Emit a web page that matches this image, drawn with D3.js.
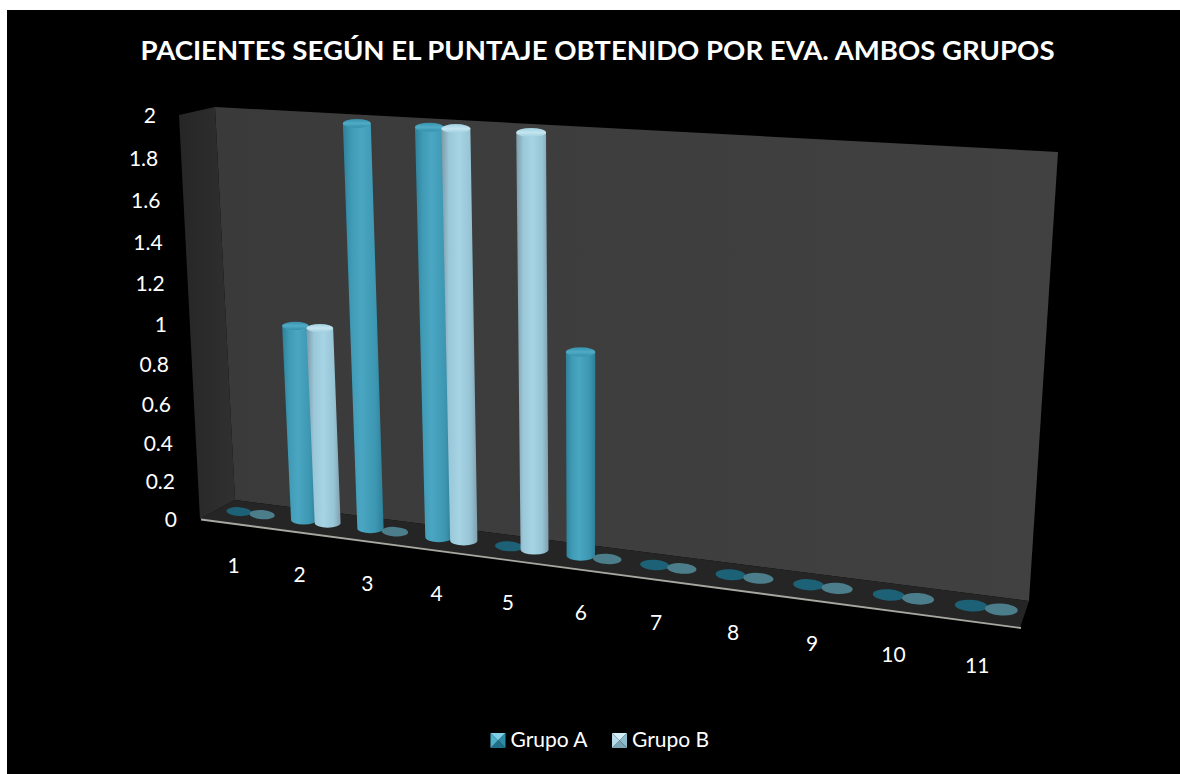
<!DOCTYPE html>
<html>
<head>
<meta charset="utf-8">
<script src="https://cdn.jsdelivr.net/npm/d3@7"></script>
<style>
  html, body { margin: 0; padding: 0; background: #fff; }
  svg { display: block; }
  text { font-family: Lato, "Open Sans", sans-serif; fill: #fff; }
</style>
</head>
<body>
<div id="chart"></div>
<script>
// Chart data
const categories = ['1', '2', '3', '4', '5', '6', '7', '8', '9', '10', '11'];
const grupoA = [0, 1, 2, 2, 0, 1, 0, 0, 0, 0, 0];
const grupoB = [0, 1, 0, 2, 2, 0, 0, 0, 0, 0, 0];
const valueTicks = [0, 0.2, 0.4, 0.6, 0.8, 1, 1.2, 1.4, 1.6, 1.8, 2];
const seriesNames = ['Grupo A', 'Grupo B'];

const width = 1180;
const height = 774;

const svg = d3
  .select('#chart')
  .append('svg')
  .attr('width', width)
  .attr('height', height);

const defs = svg.append('defs');

// Solve the 3x3 matrix taking the unit square to a four sided shape
function quadMap(p00, p10, p11, p01) {
  const dx1 = p10[0] - p11[0];
  const dx2 = p01[0] - p11[0];
  const sx = p00[0] - p10[0] + p11[0] - p01[0];
  const dy1 = p10[1] - p11[1];
  const dy2 = p01[1] - p11[1];
  const sy = p00[1] - p10[1] + p11[1] - p01[1];
  const det = dx1 * dy2 - dx2 * dy1;
  const g = (sx * dy2 - dx2 * sy) / det;
  const h = (dx1 * sy - sx * dy1) / det;
  const a = p10[0] - p00[0] + g * p10[0];
  const b = p01[0] - p00[0] + h * p01[0];
  const d = p10[1] - p00[1] + g * p10[1];
  const e = p01[1] - p00[1] + h * p01[1];
  return (s, t) => {
    const w = g * s + h * t + 1;
    return [(a * s + b * t + p00[0]) / w, (d * s + e * t + p00[1]) / w];
  };
}

// Scales feed the perspective map: categories across, values upward
const x = d3.scaleLinear().domain([0, categories.length]).range([0, 1]);
const y = d3.scaleLinear().domain([0, 2]).range([0, 1]);

// Plane the cylinders stand on, and the strip holding the value labels
const barPlane = quadMap([218.5, 509], [1028.5, 613], [1060, 160], [196, 115]);
const project = (u, value) => barPlane(x(u), y(value));
const axisEdge = quadMap([177, 520], [207, 520], [188, 116], [156, 116]);

// Background
svg.append('rect').attr('x', 7).attr('y', 10).attr('width', width - 7).attr('height', height - 10).attr('fill', '#000');

// Title
svg
  .append('text')
  .attr('x', 597.5)
  .attr('y', 60)
  .attr('text-anchor', 'middle')
  .attr('textLength', 914)
  .attr('lengthAdjust', 'spacingAndGlyphs')
  .style('font-size', '27px')
  .style('font-weight', 'bold')
  .text('PACIENTES SEGÚN EL PUNTAJE OBTENIDO POR EVA. AMBOS GRUPOS');

// Gradients for walls and floor
function linear(id, x1, y1, x2, y2, stops) {
  const g = defs
    .append('linearGradient')
    .attr('id', id)
    .attr('x1', x1)
    .attr('y1', y1)
    .attr('x2', x2)
    .attr('y2', y2);
  stops.forEach((s) => g.append('stop').attr('offset', s[0]).attr('stop-color', s[1]));
}

linear('sideWall', 0, 0, 1, 0, [[0, '#262626'], [1, '#303030']]);
linear('backWall', 0, 0, 1, 0, [[0, '#3a3a3a'], [0.5, '#3e3e3e'], [1, '#414141']]);

const poly = (pts) => 'M' + pts.map((p) => p.join(',')).join('L') + 'Z';

// Walls and floor
svg.append('path').attr('d', poly([[215, 107], [1058, 152], [1029, 601], [235, 500]])).attr('fill', 'url(#backWall)');
svg.append('path').attr('d', poly([[179, 115], [215, 107], [235, 500], [200, 519]])).attr('fill', 'url(#sideWall)');
svg.append('path').attr('d', poly([[200, 519], [235, 500], [1029, 601], [1020, 628]])).attr('fill', '#252525');

// Front rim of the floor
svg
  .append('line')
  .attr('x1', 201)
  .attr('y1', 519.5)
  .attr('x2', 1021)
  .attr('y2', 628)
  .attr('stroke', '#a8a8a0')
  .attr('stroke-width', 1.8);

// Value axis labels follow the side wall edge
valueTicks.forEach((v) => {
  const p = axisEdge(0, y(v));
  svg
    .append('text')
    .attr('x', p[0])
    .attr('y', p[1])
    .attr('dy', '0.35em')
    .attr('text-anchor', 'end')
    .style('font-size', '21px')
    .text(v);
});

// Category labels sit below the floor, drifting with the perspective
const labelDx = d3.scaleLinear().domain([0.5, 10.5]).range([-17, -9]);
const labelDy = d3.scaleLinear().domain([0.5, 10.5]).range([53, 58]);

categories.forEach((c, i) => {
  const u = i + 0.5;
  const p = project(u, 0);
  svg
    .append('text')
    .attr('x', p[0] + labelDx(u))
    .attr('y', p[1] + labelDy(u))
    .attr('dy', '0.35em')
    .attr('text-anchor', 'middle')
    .style('font-size', '21px')
    .text(c);
});

// Cylinder shading
linear('bodyA', 0, 0, 1, 0, [
  [0, '#2f8199'],
  [0.2, '#3f9ab5'],
  [0.45, '#4aa6c2'],
  [0.8, '#3d97b2'],
  [1, '#2d7f98'],
]);
linear('bodyB', 0, 0, 1, 0, [
  [0, '#7d9aa8'],
  [0.22, '#9bc8d9'],
  [0.5, '#a6d4e5'],
  [0.8, '#98c5d6'],
  [1, '#7f9fae'],
]);
linear('capA', 0, 0, 0, 1, [[0, '#3791ab'], [0.5, '#4fabc6'], [1, '#3590aa']]);
linear('capB', 0, 0, 0, 1, [[0, '#a0cfdf'], [0.5, '#c4e5f0'], [1, '#a0cfdf']]);

// One group per series, Grupo B nudged along the category band
const barHalf = 0.195;
const seriesList = [
  { values: grupoA, offset: 0.32, flat: '#1c6176', body: 'url(#bodyA)', cap: 'url(#capA)' },
  { values: grupoB, offset: 0.68, flat: '#4c7d8a', body: 'url(#bodyB)', cap: 'url(#capB)' },
];

function drawCylinder(g, u, value, s) {
  const b0 = project(u - barHalf, 0);
  const b1 = project(u + barHalf, 0);
  const bc = project(u, 0);
  const rxBase = (b1[0] - b0[0]) / 2;
  const ry = rxBase * 0.36;
  const tilt = (Math.atan2(b1[1] - b0[1], b1[0] - b0[0]) * 90) / Math.PI;

  if (value === 0) {
    g.append('ellipse')
      .attr('cx', bc[0])
      .attr('cy', bc[1])
      .attr('rx', rxBase)
      .attr('ry', ry)
      .attr('fill', s.flat)
      .attr('transform', `rotate(${tilt} ${bc[0]} ${bc[1]})`);
    return;
  }

  const t0 = project(u - barHalf, value);
  const t1 = project(u + barHalf, value);
  const tc = project(u, value);
  const rxTop = (t1[0] - t0[0]) / 2;

  g.append('path')
    .attr(
      'd',
      `M${tc[0] - rxTop},${tc[1]}L${bc[0] - rxBase},${bc[1]}` +
        `A${rxBase},${ry} 0 0 0 ${bc[0] + rxBase},${bc[1]}` +
        `L${tc[0] + rxTop},${tc[1]}Z`,
    )
    .attr('fill', s.body);

  g.append('ellipse')
    .attr('cx', tc[0])
    .attr('cy', tc[1])
    .attr('rx', rxTop)
    .attr('ry', ry * 0.9)
    .attr('fill', s.cap);
}

categories.forEach((c, i) => {
  const g = svg.append('g');
  seriesList.forEach((s) => drawCylinder(g, i + s.offset, s.values[i], s));
});

// Legend with the pyramid style swatches
const legendPos = [
  { sx: 490.5, tx: 510.5 },
  { sx: 612, tx: 632 },
];
const swatchShades = [
  ['#7fd0e6', '#2f8aa6', '#1f6f88', '#4fb0cc'],
  ['#d4eef6', '#8fbccc', '#7aa6b6', '#b4dcea'],
];

seriesNames.forEach((name, i) => {
  const sx = legendPos[i].sx;
  const sy = 733;
  const w = 15;
  const c = [sx + w / 2, sy + w / 2];
  const corners = [[sx, sy], [sx + w, sy], [sx + w, sy + w], [sx, sy + w]];
  corners.forEach((p, k) => {
    svg
      .append('path')
      .attr('d', poly([p, corners[(k + 1) % 4], c]))
      .attr('fill', swatchShades[i][k]);
  });
  svg
    .append('text')
    .attr('x', legendPos[i].tx)
    .attr('y', 747)
    .style('font-size', '21px')
    .text(name);
});
</script>
</body>
</html>
